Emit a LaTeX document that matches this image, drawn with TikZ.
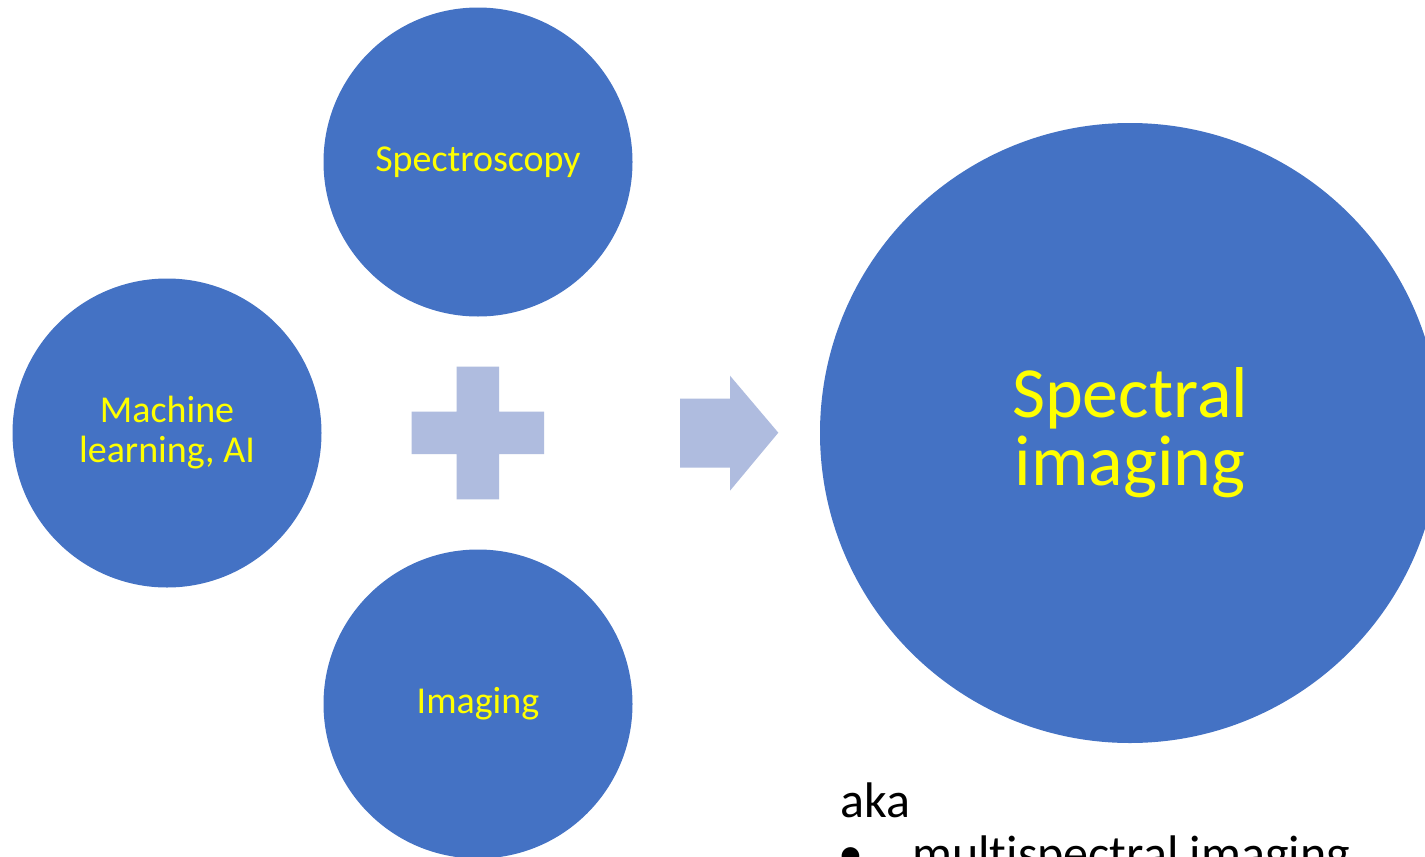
\documentclass[tikz,border=0pt]{standalone}
\usepackage{fontspec}
\setmainfont{Carlito}[Ligatures=NoCommon]
\definecolor{circblue}{HTML}{4472C4}
\definecolor{shapeblue}{HTML}{AFBCDF}
\definecolor{txtyellow}{HTML}{FFFF00}
\tikzset{
  bubble/.style={circle, fill=circblue, draw=none, inner sep=0pt, minimum size=309pt,
    text=txtyellow, align=center, font=\fontsize{38}{40}\selectfont},
  bigbubble/.style={bubble, minimum size=620pt, font=\fontsize{72}{68}\selectfont},
  notetext/.style={inner sep=0pt, text=black, font=\fontsize{50}{55}\selectfont},
  lightshape/.style={fill=shapeblue, draw=none}
}
\begin{document}
\begin{tikzpicture}[x=1pt,y=-1pt]
\useasboundingbox (0,0) rectangle (1425,857);
\clip (0,0) rectangle (1425,857);
\fill[white] (0,0) rectangle (1425,857);
% circles
\node[bubble] (spec) at (478,162) {\raisebox{-3pt}{Spectroscopy}};
\node[bubble] (ml) at (167,433) {\raisebox{-2pt}{Machine}\\\raisebox{-2pt}{learning, AI}};
\node[bubble] (img) at (478,704) {\raisebox{-3pt}{Imaging}};
\node[bigbubble] (si) at (1130,433) {Spectral\\imaging};
% plus sign
\fill[lightshape] (456.7,366.7) -- (499,366.7) -- (499,411.7) -- (544,411.7) -- (544,454)
  -- (499,454) -- (499,499.3) -- (456.7,499.3) -- (456.7,454) -- (411.7,454)
  -- (411.7,411.7) -- (456.7,411.7) -- cycle;
% arrow
\fill[lightshape] (680,398.5) -- (730,398.5) -- (730,375.7) -- (778.3,432.7)
  -- (730,490.7) -- (730,467.5) -- (680,467.5) -- cycle;
% note text
\node[notetext, anchor=base west] (aka) at (840,817) {aka};
\node[notetext, anchor=base west] (bul) at (838,870) {\textbullet};
\node[notetext, anchor=base west] (multi) at (912,870) {multispectral imaging};
\end{tikzpicture}
\end{document}
